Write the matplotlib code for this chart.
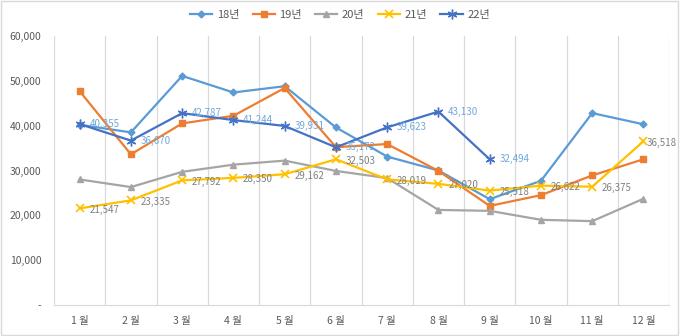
import matplotlib.pyplot as plt
from matplotlib.patches import Rectangle
from matplotlib.ticker import FuncFormatter

plt.rcParams['font.family'] = ['Noto Sans CJK KR', 'DejaVu Sans']

months = ['1 월', '2 월', '3 월', '4 월', '5 월', '6 월', '7 월', '8 월', '9 월', '10 월', '11 월', '12 월']
y18 = [40200, 38500, 51100, 47400, 48800, 39600, 33100, 30000, 23600, 27700, 42800, 40300]
y19 = [47700, 33600, 40500, 42200, 48400, 35200, 35900, 29900, 22100, 24500, 28900, 32500]
y20 = [28000, 26300, 29700, 31300, 32200, 29900, 28300, 21200, 21000, 19000, 18700, 23700]
y21 = [21547, 23335, 27792, 28350, 29162, 32503, 28019, 27020, 25518, 26622, 26375, 36518]
y22 = [40355, 36670, 42787, 41244, 39931, 35172, 39623, 43130, 32494]

fig = plt.figure(figsize=(6.8, 3.36), dpi=100)
ax = fig.add_axes([0.0794, 0.0923, 0.9046, 0.8006])

x = list(range(12))
ax.plot(x, y18, color='#5B9BD5', lw=1.6, marker='D', ms=3.5, label='18년', zorder=3)
ax.plot(x, y19, color='#ED7D31', lw=1.6, marker='s', ms=5, label='19년', zorder=3)
ax.plot(x, y20, color='#A5A5A5', lw=1.6, marker='^', ms=5, label='20년', zorder=3)
ax.plot(x, y21, color='#FFC000', lw=1.6, marker='x', ms=6, mew=1.2, label='21년', zorder=3)
ax.plot(x[:len(y22)], y22, color='#4472C4', lw=1.6, marker=(6, 2, 0), ms=7, mew=1.0,
        label='22년', zorder=4)

# data labels
for i, v in enumerate(y21):
    off = 2 if i == len(y21) - 1 else 7
    ax.annotate(f'{v:,}', (i, v), xytext=(off, -1), textcoords='offset points',
                ha='left', va='center', fontsize=7, color='#808080', zorder=5)
for i, v in enumerate(y22):
    ax.annotate(f'{v:,}', (i, v), xytext=(7, 0), textcoords='offset points',
                ha='left', va='center', fontsize=7, color='#6FA8DC', zorder=5)

ax.set_xlim(-0.5, 11.5)
ax.set_ylim(0, 60000)
ax.set_xticks(x)
ax.set_xticklabels(months)
ax.set_xticks([i - 0.5 for i in range(13)], minor=True)
ax.grid(which='minor', axis='x', color='#D9D9D9', lw=0.9)
ax.set_yticks(range(0, 60001, 10000))
ax.yaxis.set_major_formatter(FuncFormatter(lambda v, p: '-' if v == 0 else f'{int(v):,}'))
ax.tick_params(axis='both', which='both', length=0, colors='#595959', labelsize=7.5)
ax.tick_params(axis='y', pad=9)
ax.tick_params(axis='x', pad=8)
for s in ['top', 'right', 'left']:
    ax.spines[s].set_visible(False)
ax.spines['bottom'].set_color('#D9D9D9')

fig.legend(loc='upper center', bbox_to_anchor=(0.5, 1.0), ncol=5, frameon=False,
           fontsize=8, labelcolor='#595959', handlelength=2.0, columnspacing=1.2,
           handletextpad=0.4)

fig.patches.append(Rectangle((0.002, 0.003), 0.995, 0.993, transform=fig.transFigure,
                             fill=False, edgecolor='#D9D9D9', lw=1))

fig.savefig('out.png', dpi=100)
